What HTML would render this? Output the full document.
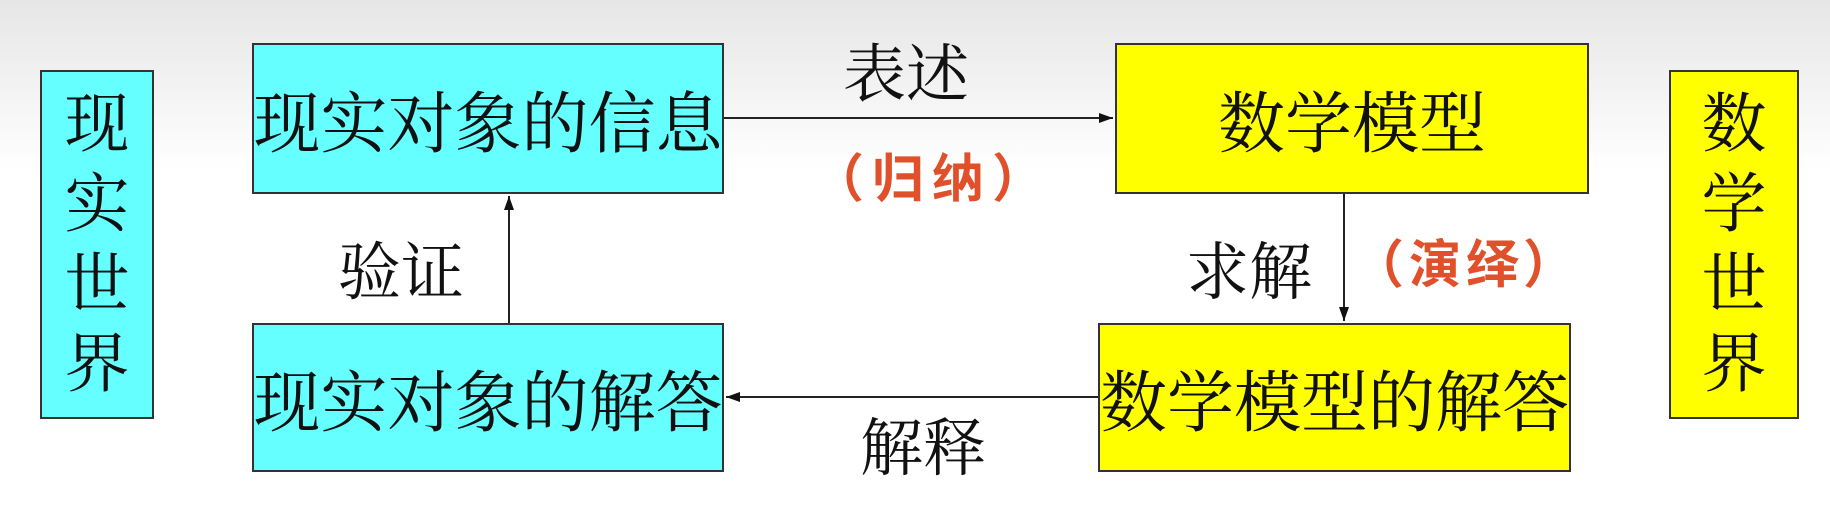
<!DOCTYPE html>
<html><head><meta charset="utf-8"><style>
html,body{margin:0;padding:0}
body{width:1830px;height:506px;position:relative;overflow:hidden;background:linear-gradient(180deg,#e6e6e6 0px,#f3f3f3 90px,#ffffff 170px);font-family:"Liberation Serif","Noto Serif CJK SC",serif;}
.box{position:absolute;box-sizing:border-box;border:2px solid #333;display:flex;align-items:center;justify-content:center;color:#111;font-size:67px;white-space:nowrap;}
.c{background:#66ffff}.y{background:#ffff00}
.v{flex-direction:column;line-height:80px;font-size:65px}
.t{position:absolute;font-size:63px;color:#111;white-space:nowrap;line-height:1}
.r{position:absolute;color:#e0502a;font-family:"Liberation Sans","Noto Sans CJK SC",sans-serif;font-weight:bold;font-size:52px;white-space:nowrap;line-height:1}
svg{position:absolute;left:0;top:0}
</style></head><body>
<div class="box c v" style="left:40px;top:70px;width:114px;height:349px"><span>现</span><span>实</span><span>世</span><span>界</span></div>
<div class="box y v" style="left:1669px;top:70px;width:130px;height:349px"><span>数</span><span>学</span><span>世</span><span>界</span></div>
<div class="box c" style="left:252px;top:43px;width:472px;height:151px">现实对象的信息</div>
<div class="box c" style="left:252px;top:323px;width:472px;height:149px">现实对象的解答</div>
<div class="box y" style="left:1115px;top:43px;width:474px;height:151px">数学模型</div>
<div class="box y" style="left:1098px;top:323px;width:473px;height:149px">数学模型的解答</div>
<svg width="1830" height="506">
<defs><marker id="a" markerWidth="14" markerHeight="10" refX="14" refY="5" orient="auto" markerUnits="userSpaceOnUse" viewBox="0 0 14 10"><path d="M0,0 L14,5 L0,10 z" fill="#111"/></marker></defs>
<g stroke="#222" stroke-width="2" fill="none">
<line x1="724" y1="118" x2="1113" y2="118" marker-end="url(#a)"/>
<line x1="1344" y1="194" x2="1344" y2="321" marker-end="url(#a)"/>
<line x1="1098" y1="397" x2="726" y2="397" marker-end="url(#a)"/>
<line x1="509" y1="323" x2="509" y2="196" marker-end="url(#a)"/>
</g></svg>
<div class="t" style="left:843px;top:44px">表述</div>
<div class="t" style="left:338px;top:242px">验证</div>
<div class="t" style="left:1186px;top:242px">求解</div>
<div class="t" style="left:860px;top:418px">解释</div>
<div class="r" style="left:812px;top:154px;letter-spacing:8px">（归纳）</div>
<div class="r" style="left:1352px;top:240px;letter-spacing:5px">（演绎）</div>
</body></html>
